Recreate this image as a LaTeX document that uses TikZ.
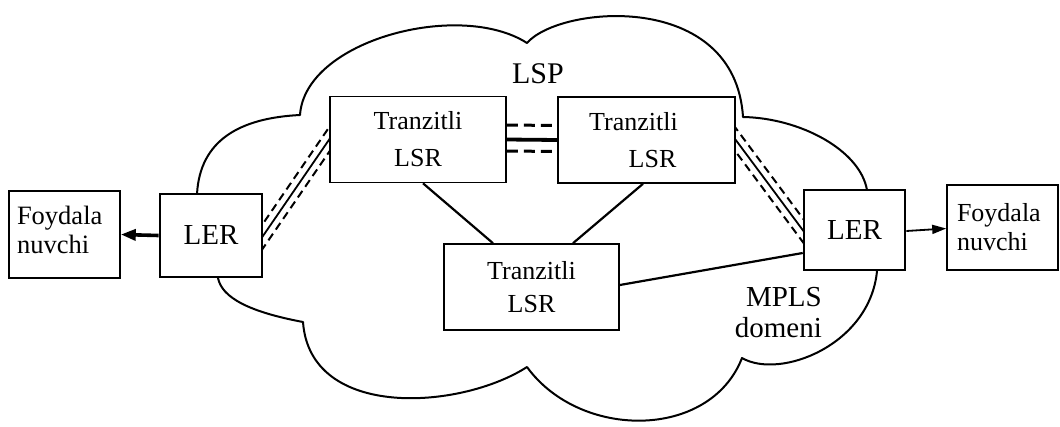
\documentclass[tikz,border=0pt]{standalone}
\usepackage{fontspec}
\setmainfont{Liberation Serif}
\usetikzlibrary{arrows.meta,backgrounds,calc}
\begin{document}
\begin{tikzpicture}[x=1pt,y=-1pt,
  box/.style={draw,fill=white,line width=1.6pt,inner sep=0pt,align=center},
  userbox/.style={box,minimum width=111pt,align=left},
  lerbox/.style={draw,fill=white,line width=2.6pt,inner sep=0pt,font=\fontsize{29pt}{32pt}\selectfont},
  lsrbox/.style={box,minimum width=176pt,minimum height=86pt},
  link/.style={line width=2.2pt},
  dashthree/.style={line width=3pt,dash pattern=on 11pt off 6pt},
  cloudline/.style={line width=2pt,line join=round},
  lbl/.style={inner sep=0pt,font=\fontsize{29pt}{31pt}\selectfont},
]
\useasboundingbox (0,0) rectangle (1060,426);

% nodes
\node[userbox,minimum height=87pt,text width=95pt,text depth=39pt,
      font=\fontsize{26.5pt}{29pt}\selectfont] (fl) at (64.5,234.5) {Foydala\\nuvchi};
\node[lerbox,minimum width=102pt,minimum height=83pt] (lerL) at (211,235.5) {LER};
\node[lerbox,minimum width=101pt,minimum height=80pt] (lerR) at (854.5,230) {LER};
\node[userbox,minimum height=85pt,text width=91pt,text depth=31pt,
      font=\fontsize{26pt}{29pt}\selectfont] (fr) at (1002.5,227.5) {Foydala\\nuvchi};
\node[lsrbox,font=\fontsize{26pt}{37pt}\selectfont] (t1) at (418,139.5) {Tranzitli\\LSR};
\node[lsrbox,minimum width=177pt,font=\fontsize{26pt}{37pt}\selectfont] (t2) at (646.5,140) {Tranzitli\hspace*{26pt}\\\hspace*{12pt}LSR};
\node[lsrbox,minimum width=175pt,font=\fontsize{26pt}{33pt}\selectfont] (t3) at (531.5,287) {Tranzitli\\LSR};
\node[lbl,anchor=base,font=\fontsize{30pt}{32pt}\selectfont] (lsp) at (538,83) {LSP};
\node[lbl,anchor=east,align=right] (mpls) at (822,313) {MPLS\\domeni};

\begin{pgfonlayer}{background}
% cloud
\draw[cloudline] (197,194) .. controls (200,140) and (240,118) .. (300,115)
  .. controls (305,40) and (460,0) .. (527,43)
  .. controls (560,5) and (735,-10) .. (743,117)
  .. controls (800,118) and (860,150) .. (867,190)
  -- (877,271)
  .. controls (870,345) and (780,380) .. (742,358)
  .. controls (710,440) and (580,440) .. (527,367)
  .. controls (460,410) and (310,420) .. (303,322)
  .. controls (250,312) and (222,298) .. (218,278) -- cycle;

% LSP between the top LSRs
\draw[dashthree] ([yshift=14.5pt]t1.east) -- ([yshift=14.5pt]t2.west);
\draw[line width=3.8pt] (t1.east) -- (t2.west);
\draw[dashthree] ([yshift=-11.5pt]t1.east) -- ([yshift=-11.5pt]t2.west);

% left LER -> top-left LSR
\draw[link,line width=1.8pt,shorten <=-14pt,shorten >=-14pt] (lerL.east) -- (t1.west);
\draw[dashthree,line width=2pt,dash pattern=on 8pt off 5pt,shorten <=-14pt,shorten >=-14pt]
  ([shift={(-5.7,-4.0)}]lerL.east) -- ([shift={(-5.7,-4.0)}]t1.west);
\draw[dashthree,line width=2pt,dash pattern=on 8pt off 5pt,shorten <=-14pt,shorten >=-14pt]
  ([shift={(5.7,4.0)}]lerL.east) -- ([shift={(5.7,4.0)}]t1.west);

% top-right LSR -> right LER
\draw[link,line width=1.8pt,shorten <=-14pt,shorten >=-14pt] (t2.east) -- (lerR.west);
\draw[dashthree,line width=2pt,dash pattern=on 8pt off 5pt,shorten <=-14pt,shorten >=-14pt]
  ([shift={(5.6,-4.3)}]t2.east) -- ([shift={(5.6,-4.3)}]lerR.west);
\draw[dashthree,line width=2pt,dash pattern=on 8pt off 5pt,shorten <=-14pt,shorten >=-14pt]
  ([shift={(-5.6,4.3)}]t2.east) -- ([shift={(-5.6,4.3)}]lerR.west);

% links to the lower LSR
\draw[link] ([xshift=5pt]t1.south) -- ([xshift=-38.5pt]t3.north);
\draw[link] ([xshift=-3.5pt]t2.south) -- ([xshift=41.5pt]t3.north);
\draw[link] ([yshift=2pt]t3.east) -- ([yshift=-23pt]lerR.west);
\end{pgfonlayer}

% LER -> users
\draw[line width=3.6pt,-{Triangle[length=15pt,width=11pt]}] (lerL.west) -- (fl.east);
\draw[line width=1.8pt,-{Triangle[length=14pt,width=9pt]}] ([yshift=-1pt]lerR.east) -- ([yshift=-1pt]fr.west);
\end{tikzpicture}
\end{document}
